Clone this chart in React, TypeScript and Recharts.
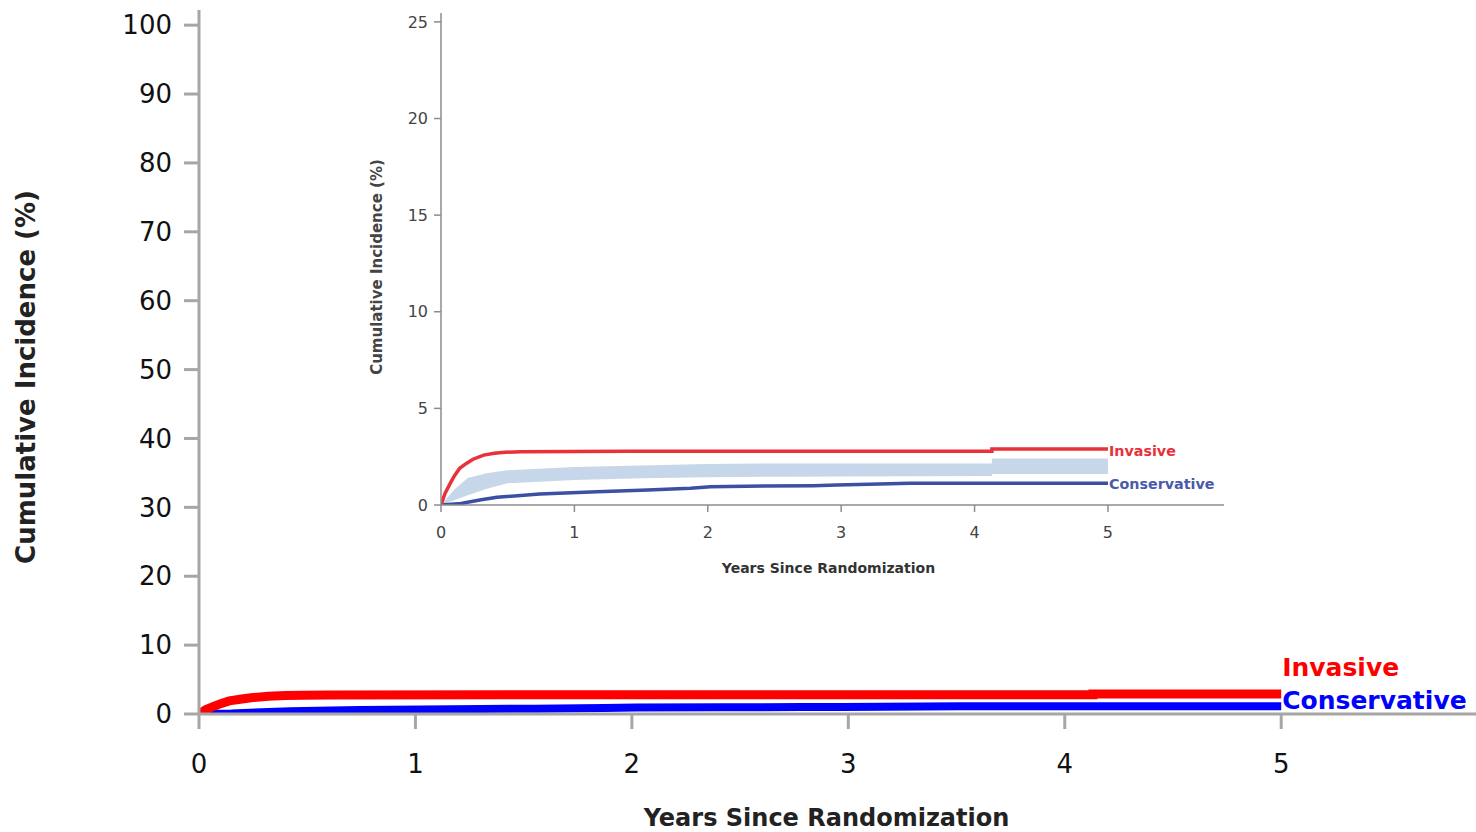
import React from "react";
import {
  ComposedChart,
  Line,
  Area,
  XAxis,
  YAxis,
  Label,
} from "recharts";

// Cumulative incidence curves (years, %)
const invasiveYears = [0, 0.03, 0.07, 0.1, 0.14, 0.19, 0.24, 0.32, 0.4, 0.48, 0.6, 1.4, 4.13, 4.13, 5];
const invasivePct = [0, 0.6, 1.13, 1.5, 1.9, 2.15, 2.37, 2.58, 2.68, 2.73, 2.75, 2.78, 2.78, 2.9, 2.9];

const conservativeYears = [0, 0.15, 0.29, 0.42, 0.74, 1.17, 1.55, 1.87, 2.02, 2.42, 2.79, 2.97, 3.52, 5];
const conservativePct = [0, 0.08, 0.26, 0.4, 0.57, 0.69, 0.77, 0.87, 0.94, 0.98, 1.0, 1.03, 1.12, 1.12];

// light blue band in the inset
const bandYears = [0, 0.1, 0.2, 0.35, 0.5, 1, 1.5, 2, 2.5, 3, 4.13, 4.13, 5];
const bandLow = [0, 0.25, 0.5, 0.85, 1.13, 1.29, 1.38, 1.44, 1.46, 1.48, 1.5, 1.6, 1.6];
const bandHigh = [0, 0.8, 1.4, 1.65, 1.8, 1.97, 2.05, 2.12, 2.15, 2.15, 2.15, 2.4, 2.4];

const xTicks = [0, 1, 2, 3, 4, 5];
const mainYTicks = [0, 10, 20, 30, 40, 50, 60, 70, 80, 90, 100];
const insetYTicks = [0, 5, 10, 15, 20, 25];

const invasiveData = invasiveYears.map((t, i) => ({ t, v: invasivePct[i] }));
const conservativeData = conservativeYears.map((t, i) => ({ t, v: conservativePct[i] }));
const bandData = bandYears.map((t, i) => ({ t, range: [bandLow[i], bandHigh[i]] }));

const FONT = "'DejaVu Sans', sans-serif";

const endLabel = (text: string, color: string, size: number, dy: number, last: number) => (props: any) => {
  const { x, y, index } = props;
  if (index !== last) return null;
  return (
    <text
      x={x + 1}
      y={y + dy}
      fill={color}
      fontSize={size}
      fontWeight="bold"
      fontFamily={FONT}
      dominantBaseline="central"
    >
      {text}
    </text>
  );
};

const xTitle = (text: string, size: number, dx: number, dy: number, color: string) => (props: any) => {
  const { viewBox } = props;
  return (
    <text
      x={viewBox.x + viewBox.width / 2 + dx}
      y={viewBox.y + dy}
      textAnchor="middle"
      fontSize={size}
      fontWeight="bold"
      fontFamily={FONT}
      fill={color}
    >
      {text}
    </text>
  );
};

const yTitle = (text: string, size: number, x: number, dy: number, color: string) => (props: any) => {
  const { viewBox } = props;
  const cy = viewBox.y + viewBox.height / 2 + dy;
  return (
    <text
      x={x}
      y={cy}
      transform={`rotate(-90 ${x} ${cy})`}
      textAnchor="middle"
      dominantBaseline="central"
      fontSize={size}
      fontWeight="bold"
      fontFamily={FONT}
      fill={color}
    >
      {text}
    </text>
  );
};

export default function App() {
  return (
    <div style={{ position: "absolute", left: 0, top: 0, width: 1476, height: 832, background: "#fff" }}>
      {/* main chart */}
      <div style={{ position: "absolute", left: 0, top: 0 }}>
        <ComposedChart width={1476} height={832} margin={{ top: 10, right: 0, left: 0, bottom: 0 }}>
          <XAxis
            dataKey="t"
            type="number"
            domain={[0, 5.9]}
            ticks={xTicks}
            allowDataOverflow
            height={118}
            stroke="#a6a6a6"
            strokeWidth={3}
            tickSize={15}
            tickMargin={26}
            tick={{ fill: "#111", fontSize: 26, fontFamily: FONT }}
          >
            <Label content={xTitle("Years Since Randomization", 24, -11, 112, "#222")} />
          </XAxis>
          <YAxis
            type="number"
            domain={[0, 102.2]}
            ticks={mainYTicks}
            allowDataOverflow
            width={199}
            stroke="#a6a6a6"
            strokeWidth={3}
            tickSize={15}
            tickMargin={12}
            tick={{ fill: "#111", fontSize: 26, fontFamily: FONT }}
          >
            <Label content={yTitle("Cumulative Incidence (%)", 26, 26, 15, "#222")} />
          </YAxis>
          <Line
            data={conservativeData}
            dataKey="v"
            type="linear"
            stroke="#0000ff"
            strokeWidth={8}
            dot={false}
            isAnimationActive={false}
            label={endLabel("Conservative", "#0000ff", 25, -6, conservativeData.length - 1)}
          />
          <Line
            data={invasiveData}
            dataKey="v"
            type="linear"
            stroke="#ff0000"
            strokeWidth={9}
            dot={false}
            isAnimationActive={false}
            label={endLabel("Invasive", "#ff0000", 25, -27, invasiveData.length - 1)}
          />
        </ComposedChart>
      </div>

      {/* inset chart */}
      <div style={{ position: "absolute", left: 360, top: 0 }}>
        <ComposedChart width={880} height={600} margin={{ top: 13, right: 16, left: 0, bottom: 0 }}>
          <XAxis
            dataKey="t"
            type="number"
            domain={[0, 5.87]}
            ticks={xTicks}
            allowDataOverflow
            height={95}
            stroke="#8c8c8c"
            strokeWidth={1.5}
            tickSize={7}
            tickMargin={15}
            tick={{ fill: "#444", fontSize: 16, fontFamily: FONT }}
          >
            <Label content={xTitle("Years Since Randomization", 14, -4, 68, "#333")} />
          </XAxis>
          <YAxis
            type="number"
            domain={[0, 25.46]}
            ticks={insetYTicks}
            allowDataOverflow
            width={81}
            stroke="#8c8c8c"
            strokeWidth={1.5}
            tickSize={7}
            tickMargin={6}
            tick={{ fill: "#444", fontSize: 16, fontFamily: FONT }}
          >
            <Label content={yTitle("Cumulative Incidence (%)", 15, 17, 8, "#444")} />
          </YAxis>
          <Area
            data={bandData}
            dataKey="range"
            type="linear"
            stroke="none"
            fill="#c6d7ea"
            fillOpacity={1}
            isAnimationActive={false}
          />
          <Line
            data={conservativeData}
            dataKey="v"
            type="linear"
            stroke="#3b4fa3"
            strokeWidth={3.5}
            dot={false}
            isAnimationActive={false}
            label={endLabel("Conservative", "#4a5aaa", 14.3, 1, conservativeData.length - 1)}
          />
          <Line
            data={invasiveData}
            dataKey="v"
            type="linear"
            stroke="#e8313a"
            strokeWidth={3.5}
            dot={false}
            isAnimationActive={false}
            label={endLabel("Invasive", "#e8313a", 14.3, 2, invasiveData.length - 1)}
          />
        </ComposedChart>
      </div>
    </div>
  );
}
